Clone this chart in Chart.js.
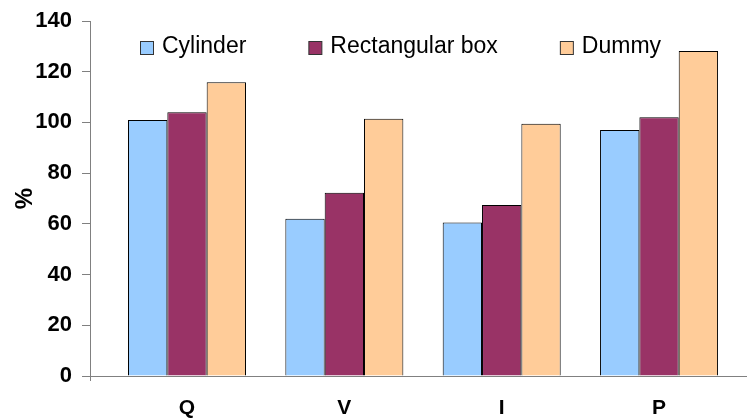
<!DOCTYPE html>
<html>
<head>
<meta charset="utf-8">
<script src="https://cdn.jsdelivr.net/npm/chart.js@4/dist/chart.umd.min.js"></script>
<style>
  html, body { margin: 0; padding: 0; background: #ffffff; }
  #wrap { width: 747px; height: 418px; position: relative; }
</style>
</head>
<body>
<div id="wrap"><canvas id="c" width="747" height="418"></canvas></div>
<script>
// Measured quantities, in percent
const categories = ['Q', 'V', 'I', 'P'];
const cylinder = [101, 62, 60.5, 97];
const rectangularBox = [104, 72.3, 67.4, 102];
const dummy = [115.8, 101.5, 99.5, 128.2];
const yTicks = [0, 20, 40, 60, 80, 100, 120, 140];

const seriesNames = ['Cylinder', 'Rectangular box', 'Dummy'];
const seriesColors = ['#99CCFF', '#993366', '#FFCC99'];
const seriesValues = [cylinder, rectangularBox, dummy];

const AXIS_GREY = '#808080';
const FONT = '"Liberation Sans", Arial, sans-serif';

// Legend drawn inside the top of the plot area
const innerLegend = {
  id: 'innerLegend',
  afterDraw(chart) {
    const ctx = chart.ctx;
    const box = 13, gapText = 9, gapItem = 62;
    let x = chart.chartArea.left + 50;
    const yMid = 47;
    ctx.save();
    ctx.font = '23px ' + FONT;
    ctx.textBaseline = 'middle';
    ctx.textAlign = 'left';
    chart.data.datasets.forEach(ds => {
      ctx.fillStyle = ds.backgroundColor;
      ctx.fillRect(x + 0.5, yMid - 6 + 0.5, box, box);
      ctx.strokeStyle = '#333333';
      ctx.lineWidth = 1;
      ctx.strokeRect(x + 0.5, yMid - 6 + 0.5, box, box);
      ctx.fillStyle = '#000000';
      const tx = x + box + gapText;
      ctx.fillText(ds.label, tx, yMid);
      x = tx + ctx.measureText(ds.label).width + gapItem;
    });
    ctx.restore();
  }
};

// Short tick mark where the category axis starts
const axisStartTick = {
  id: 'axisStartTick',
  afterDraw(chart) {
    const { ctx, chartArea } = chart;
    ctx.save();
    ctx.strokeStyle = AXIS_GREY;
    ctx.lineWidth = 1;
    ctx.beginPath();
    ctx.moveTo(Math.round(chartArea.left) + 0.5, chartArea.bottom);
    ctx.lineTo(Math.round(chartArea.left) + 0.5, chartArea.bottom + 5);
    ctx.stroke();
    ctx.restore();
  }
};

const datasets = seriesNames.map((name, k) => ({
  label: name,
  data: categories.map((c, i) => ({ x: i + 1, y: seriesValues[k][i] })),
  backgroundColor: seriesColors[k],
  borderColor: '#000000',
  borderWidth: 1,
  categoryPercentage: 0.75,
  barPercentage: 1.0
}));

new Chart(document.getElementById('c'), {
  type: 'bar',
  data: { datasets },
  plugins: [innerLegend, axisStartTick],
  options: {
    responsive: false,
    animation: false,
    devicePixelRatio: 1,
    layout: { padding: { top: 20, right: 0, bottom: 0, left: 0 } },
    plugins: {
      legend: { display: false },
      tooltip: { enabled: false }
    },
    scales: {
      x: {
        type: 'linear',
        offset: false,
        bounds: 'data',
        min: 0.3835,
        max: 4.559,
        afterBuildTicks: s => { s.ticks = categories.map((c, i) => ({ value: i + 1 })); },
        afterFit: s => { s.height = 42; },
        grid: { display: false, drawTicks: false, offset: false },
        border: { display: true, color: AXIS_GREY, width: 1 },
        ticks: {
          padding: 20,
          autoSkip: false,
          maxRotation: 0,
          color: '#000000',
          font: { family: FONT, size: 21, weight: 'bold' },
          callback: v => categories[v - 1] ?? ''
        }
      },
      y: {
        min: 0,
        max: 140,
        afterBuildTicks: s => { s.ticks = yTicks.map(v => ({ value: v })); },
        afterFit: s => { s.width = 90; },
        grid: { drawOnChartArea: false, drawTicks: true, tickLength: 8, color: AXIS_GREY },
        border: { display: true, color: AXIS_GREY, width: 1 },
        ticks: {
          padding: 10,
          color: '#000000',
          font: { family: FONT, size: 22, weight: 'bold', lineHeight: 1 }
        },
        title: {
          display: true,
          text: '%',
          color: '#000000',
          font: { family: FONT, size: 24, weight: 'bold' },
          padding: { top: 11, bottom: 0 }
        }
      }
    }
  }
});
</script>
</body>
</html>
